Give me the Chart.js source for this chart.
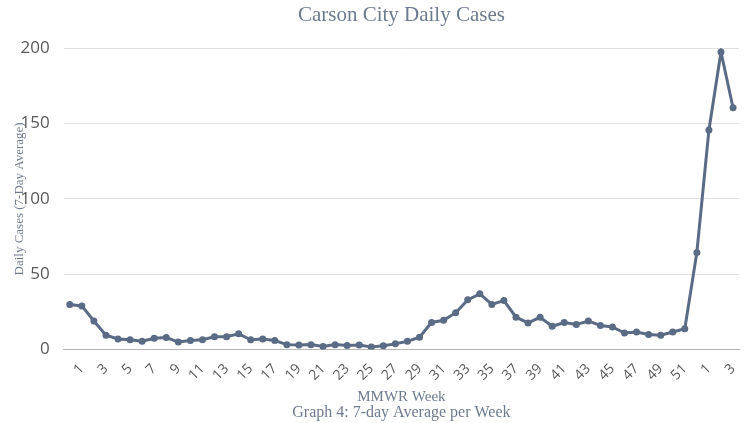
<!DOCTYPE html>
<html>
<head>
<meta charset="utf-8">
<script src="https://cdn.jsdelivr.net/npm/chart.js@4.4.1/dist/chart.umd.min.js"></script>
<style>
    html, body { margin: 0; padding: 0; background: #ffffff; }
    #chartBox { width: 748px; height: 423px; }
</style>
</head>
<body>
<div id="chartBox"><canvas id="casesChart"></canvas></div>
<script>
// MMWR weeks: last week of 2020, all of 2021, first weeks of 2022
const semanas = ['53',
    '1', '2', '3', '4', '5', '6', '7', '8', '9', '10',
    '11', '12', '13', '14', '15', '16', '17', '18', '19', '20',
    '21', '22', '23', '24', '25', '26', '27', '28', '29', '30',
    '31', '32', '33', '34', '35', '36', '37', '38', '39', '40',
    '41', '42', '43', '44', '45', '46', '47', '48', '49', '50',
    '51', '52',
    '1', '2', '3'];

const casosMedia = [30,
    29, 19, 9.5, 7, 6.5, 5.5, 7.5, 8, 5, 6,
    6.5, 8.5, 8.5, 10.5, 6.5, 7, 6, 3.3, 3, 3.3,
    2, 3.3, 2.7, 3, 1.8, 2.6, 3.8, 5.5, 8.2, 18,
    19.5, 24.5, 33, 37, 30, 32.5, 21.5, 17.7, 21.4, 15.5,
    18, 16.6, 19, 16, 15, 11, 11.6, 10, 9.5, 11.7,
    13.8, 64.5,
    145.7, 197.5, 160.5];

const yTicks = [0, 50, 100, 150, 200];

const corLinha = '#5a6b85';
const corTexto = '#6e7b8e';
const corTicks = '#595959';

const chartInstance = new Chart(document.getElementById('casesChart'), {
    type: 'line',
    data: {
        labels: semanas,
        datasets: [{
            label: 'Daily Cases',
            data: casosMedia,
            borderColor: corLinha,
            backgroundColor: corLinha,
            borderWidth: 3,
            pointRadius: 3.5,
            pointBackgroundColor: corLinha,
            pointBorderWidth: 0,
            tension: 0,
            fill: false
        }]
    },
    options: {
        responsive: true,
        maintainAspectRatio: false,
        animation: false,
        layout: {
            padding: { left: 12, right: 5, top: 0, bottom: 0 }
        },
        plugins: {
            legend: { display: false },
            tooltip: { enabled: false },
            title: {
                display: true,
                fullSize: false,
                text: 'Carson City Daily Cases',
                color: corTexto,
                font: { family: 'Liberation Serif', size: 21, weight: 'normal' },
                padding: { top: 3, bottom: 20 }
            },
            subtitle: {
                display: true,
                fullSize: false,
                position: 'bottom',
                text: 'Graph 4: 7-day Average per Week',
                color: corTexto,
                font: { family: 'Liberation Serif', size: 16, weight: 'normal' },
                padding: { top: 0, bottom: 1 }
            }
        },
        scales: {
            x: {
                offset: true,
                grid: { display: false },
                border: { display: true, color: '#b5b5b5', width: 1 },
                ticks: {
                    autoSkip: false,
                    minRotation: 45,
                    maxRotation: 45,
                    padding: 3,
                    color: corTicks,
                    font: { family: 'Open Sans', size: 14 },
                    callback: function (value, index) {
                        return index % 2 === 1 ? this.getLabelForValue(value) : '';
                    }
                },
                title: {
                    display: true,
                    text: 'MMWR Week',
                    color: corTexto,
                    font: { family: 'Liberation Serif', size: 15, weight: 'normal' },
                    padding: { top: 1, bottom: -3 }
                }
            },
            y: {
                min: yTicks[0],
                max: yTicks[yTicks.length - 1],
                afterBuildTicks: function (axis) {
                    axis.ticks = yTicks.map(v => ({ value: v }));
                },
                grid: { color: '#e0e0e0', drawTicks: false },
                border: { display: false },
                ticks: {
                    padding: 14,
                    color: corTicks,
                    font: { family: 'Open Sans', size: 17 }
                },
                title: {
                    display: true,
                    text: 'Daily Cases (7-Day Average)',
                    color: corTexto,
                    font: { family: 'Liberation Serif', size: 13, weight: 'normal' },
                    padding: { top: 0, bottom: -21 }
                }
            }
        }
    }
});
</script>
</body>
</html>
